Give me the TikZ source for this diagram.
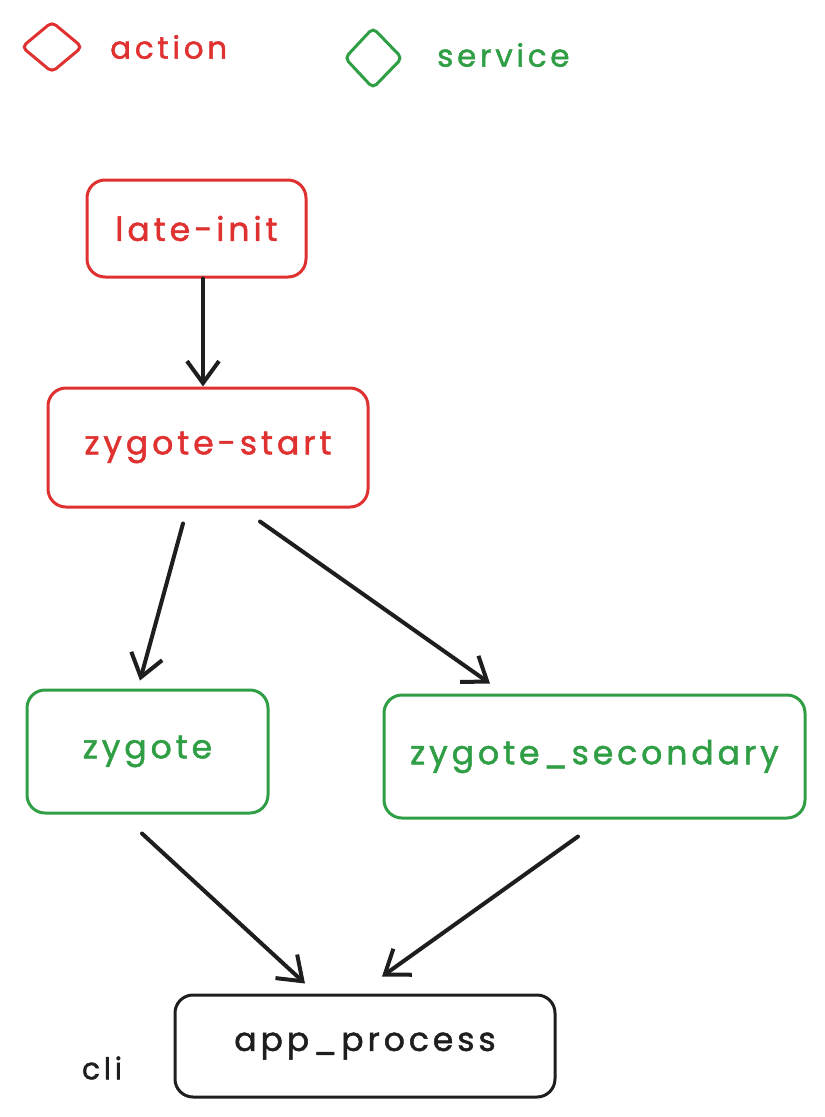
\documentclass[tikz,border=0pt]{standalone}
\usepackage{fontspec}
\setmainfont{Poppins}[LetterSpace=12,FakeBold=1.5]
\usetikzlibrary{arrows.meta,calc}
\definecolor{exred}{HTML}{E03131}
\definecolor{exgreen}{HTML}{2F9E44}
\definecolor{exblack}{HTML}{1E1E1E}
\begin{document}
\begin{tikzpicture}[x=1pt,y=-1pt,
  box/.style={draw, line width=3pt, rounded corners=18pt, inner sep=0pt, align=center, font=\fontsize{33}{36}\selectfont},
  actbox/.style={box, draw=exred, text=exred},
  svcbox/.style={box, draw=exgreen, text=exgreen},
  plainbox/.style={box, draw=exblack, text=exblack},
  conn/.style={draw=exblack, line width=4pt, line cap=round, -{Straight Barb[length=22pt,width=32pt,line width=4pt]}},
  legendtxt/.style={font=\fontsize{31}{34}\selectfont, anchor=west, inner sep=0pt}
]
\useasboundingbox (0,0) rectangle (825,1117);
% legend
\draw[exred, line width=3pt, rounded corners=5pt] (22,47) -- (52,22) -- (82,47) -- (52,72) -- cycle;
\node[legendtxt, text=exred] (lact) at (110,47) {action};
\draw[exgreen, line width=3pt, rounded corners=5pt] (345,58) -- (373,28) -- (402,58) -- (373,88) -- cycle;
\node[legendtxt, text=exgreen] (lsvc) at (437,55) {service};
% boxes
\node[actbox, minimum width=219pt, minimum height=97pt] (li) at (196.5,228.5) {late-init};
\node[actbox, minimum width=320pt, minimum height=119pt] (zs) at (208,447.5) {zygote-start};
\node[svcbox, minimum width=241pt, minimum height=123pt] (zy) at (147.5,751.5) {zygote};
\node[svcbox, minimum width=421pt, minimum height=123pt] (zsec) at (594.5,756.5) {zygote\_secondary};
\node[plainbox, minimum width=380pt, minimum height=102pt] (ap) at (365,1046) {app\_process};
\node[font=\fontsize{30}{32}\selectfont, text=exblack, inner sep=0pt] (cli) at (102,1068) {cli};
% connectors
\draw[conn] ($(li.south)+(6.5,0)$) -- ($(zs.north)+(-5,0)$);
\draw[conn] ($(zs.south)+(-25,15)$) -- ($(zy.north)+(-7.5,-8)$);
\draw[conn] ($(zs.south)+(52,13)$) -- ($(zsec.north)+(-104.5,-10)$);
\draw[conn] ($(zy.south)+(-5.5,19)$) -- ($(ap.north)+(-60,-10)$);
\draw[conn] ($(zsec.south)+(-16.5,17)$) -- ($(ap.north)+(17,-17)$);
\end{tikzpicture}
\end{document}
